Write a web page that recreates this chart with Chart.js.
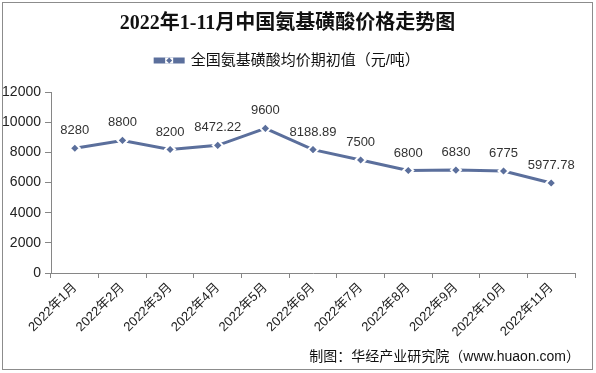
<!DOCTYPE html>
<html>
<head>
<meta charset="utf-8">
<script src="https://cdn.jsdelivr.net/npm/chart.js@4"></script>
<style>
  html, body { margin: 0; padding: 0; background: #fff; }
  #wrap { width: 596px; height: 373px; position: relative; }
</style>
</head>
<body>
<div id="wrap"><canvas id="chartHarga" width="596" height="373"></canvas></div>
<script>
// data harga
const bulan = ['2022年1月', '2022年2月', '2022年3月', '2022年4月', '2022年5月', '2022年6月',
               '2022年7月', '2022年8月', '2022年9月', '2022年10月', '2022年11月'];
const harga = [8280, 8800, 8200, 8472.22, 9600, 8188.89, 7500, 6800, 6830, 6775, 5977.78];
const yTicks = [0, 2000, 4000, 6000, 8000, 10000, 12000];

const warnaGaris = '#5b6f9c';
const fontSans = '"Liberation Sans", Arial, "Noto Sans CJK SC", sans-serif';

// plugin kecil: bingkai, label nilai, penanda legend, sumber
const extras = {
    id: 'extras',
    afterDraw(chart) {
        const ctx = chart.ctx;
        ctx.save();
        // bingkai luar
        ctx.strokeStyle = '#8c8c8c';
        ctx.lineWidth = 1;
        ctx.strokeRect(2.5, 2.5, 590, 367);

        // label nilai di atas titik
        const meta = chart.getDatasetMeta(0);
        ctx.fillStyle = '#333';
        ctx.font = '13px ' + fontSans;
        ctx.textAlign = 'center';
        ctx.textBaseline = 'bottom';
        meta.data.forEach((pt, i) => {
            ctx.fillText(String(harga[i]), pt.x, pt.y - 11);
        });

        // diamond di tengah kotak legend
        const boxes = chart.legend.legendHitBoxes;
        if (boxes && boxes.length) {
            const b = boxes[0];
            const cx = b.left + chart.legend.options.labels.boxWidth / 2;
            const cy = b.top + b.height / 2;
            ctx.fillStyle = '#fff';
            ctx.fillRect(cx - 4, cy - 3, 8, 6);
            ctx.fillStyle = warnaGaris;
            ctx.beginPath();
            ctx.moveTo(cx, cy - 3);
            ctx.lineTo(cx + 3, cy);
            ctx.lineTo(cx, cy + 3);
            ctx.lineTo(cx - 3, cy);
            ctx.closePath();
            ctx.fill();
        }

        // sumber
        ctx.fillStyle = '#111';
        ctx.font = '14px ' + fontSans;
        ctx.textAlign = 'right';
        ctx.textBaseline = 'middle';
        ctx.fillText('制图：华经产业研究院（www.huaon.com）', 580, 357);
        ctx.restore();
    }
};

new Chart(document.getElementById('chartHarga'), {
    type: 'line',
    data: {
        labels: bulan,
        datasets: [{
            label: '全国氨基磺酸均价期初值（元/吨）',
            data: harga,
            borderColor: warnaGaris,
            backgroundColor: warnaGaris,
            borderWidth: 3,
            pointStyle: 'rectRot',
            pointRadius: 5,
            pointBackgroundColor: warnaGaris,
            pointBorderColor: '#fff',
            pointBorderWidth: 2,
            tension: 0
        }]
    },
    options: {
        responsive: false,
        animation: false,
        layout: { padding: { left: 0, right: 21, top: 8, bottom: 0 } },
        scales: {
            x: {
                offset: true,
                grid: { offset: true, drawOnChartArea: false, color: '#868686', tickLength: 5 },
                border: { color: '#868686' },
                ticks: {
                    color: '#222',
                    font: { size: 13, family: fontSans },
                    maxRotation: 45,
                    minRotation: 45,
                    autoSkip: false,
                    padding: 2
                },
                afterFit(scale) { scale.height = 100; }
            },
            y: {
                min: 0,
                max: 12000,
                afterBuildTicks(scale) { scale.ticks = yTicks.map(v => ({ value: v })); },
                grid: { drawOnChartArea: false, color: '#868686', tickLength: 6 },
                border: { color: '#868686' },
                ticks: {
                    color: '#222',
                    font: { size: 14, family: fontSans },
                    padding: 4,
                    callback: v => String(v)
                },
                afterFit(scale) { scale.width = 51; }
            }
        },
        plugins: {
            title: {
                display: true,
                text: '2022年1-11月中国氨基磺酸价格走势图',
                color: '#111',
                font: { size: 20, weight: 'bold', family: '"Liberation Serif", "Noto Sans CJK SC", serif' },
                padding: { top: 4, bottom: -7 }
            },
            // jarak kosong antara legend dan grafik
            subtitle: {
                display: true,
                text: ' ',
                weight: 500,
                font: { size: 1 },
                padding: { top: 0, bottom: 13 }
            },
            legend: {
                position: 'top',
                labels: {
                    boxWidth: 28,
                    boxHeight: 3,
                    color: '#111',
                    font: { size: 15, family: fontSans },
                    padding: 24
                }
            },
            tooltip: { enabled: false }
        }
    },
    plugins: [extras]
});
</script>
</body>
</html>
